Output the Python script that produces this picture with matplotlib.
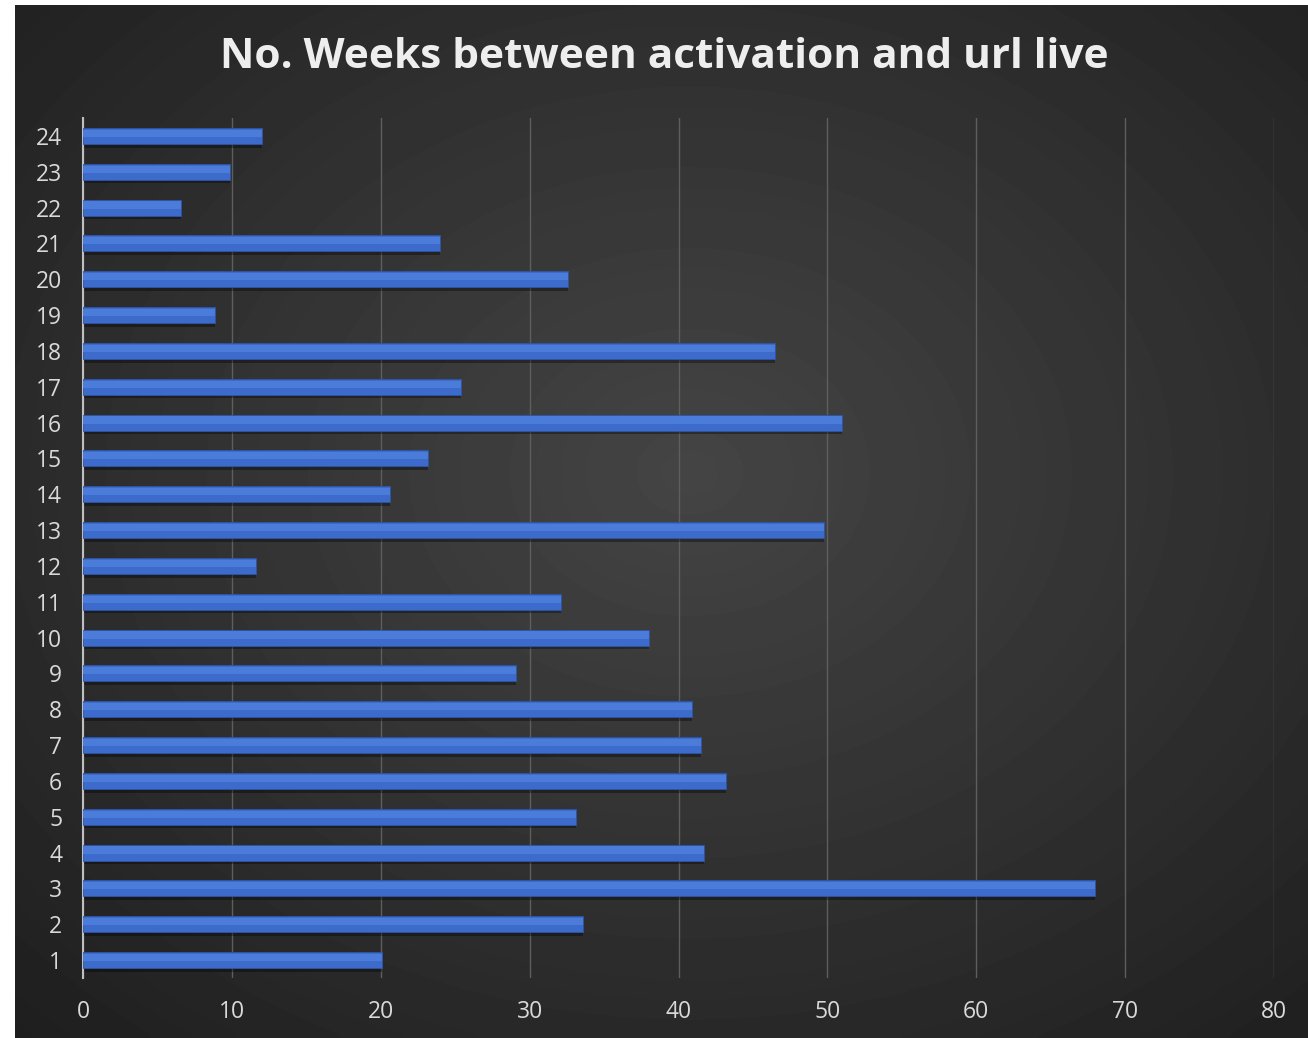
import numpy as np
import matplotlib.pyplot as plt

# data
categories = list(range(1, 25))
weeks = [20.1, 33.6, 68.0, 41.7, 33.1, 43.2, 41.5, 40.9, 29.1, 38.0, 32.1, 11.6,
         49.8, 20.6, 23.2, 51.0, 25.4, 46.5, 8.9, 32.6, 24.0, 6.6, 9.9, 12.0]
x_ticks = [0, 10, 20, 30, 40, 50, 60, 70, 80]
title = "No. Weeks between activation and url live"

W, H = 1308, 1038
fig = plt.figure(figsize=(W / 100, H / 100), dpi=100)
fig.patch.set_facecolor("white")

# dark radial-gradient background (white strip on left/top like the screenshot)
bg = fig.add_axes([15 / W, 0, 1 - 15 / W, 1 - 5 / H])
yy, xx = np.mgrid[0:200, 0:250]
cx, cy = 0.52 * 250, 0.45 * 200
r = np.sqrt(((xx - cx) / 250) ** 2 + ((yy - cy) / 200) ** 2)
shade = np.clip(1 - r / 0.75, 0, 1)
img = 0.12 + 0.15 * shade
bg.imshow(img, cmap="gray", vmin=0, vmax=1, aspect="auto", interpolation="bicubic")
bg.axis("off")

ax_l, ax_r, ax_t, ax_b = 83, 1274, 118, 978
ax = fig.add_axes([ax_l / W, 1 - ax_b / H, (ax_r - ax_l) / W, (ax_b - ax_t) / H])
ax.patch.set_alpha(0)

# soft shadow, bar, faint highlight on the upper half
ax.barh([c - 0.1 for c in categories], weeks, height=0.45,
        color="black", alpha=0.35, zorder=2)
ax.barh(categories, weeks, height=0.45, color="#3d6bcc", edgecolor="#2d56a8",
        linewidth=0.6, zorder=3)
ax.barh([c + 0.07 for c in categories], weeks, height=0.2, color="#4b7cd9",
        linewidth=0, zorder=4)

ax.set_xlim(0, 80)
ax.set_ylim(0.5, 24.5)
ax.set_xticks(x_ticks)
ax.set_yticks(categories)
ax.grid(axis="x", color="#5e5e5e", linewidth=1.0, zorder=1)
ax.set_axisbelow(True)
for s in ["top", "right", "bottom"]:
    ax.spines[s].set_visible(False)
ax.spines["left"].set_color("#bfbfbf")
ax.spines["left"].set_linewidth(1.5)
ax.tick_params(axis="both", length=0, colors="#d9d9d9", labelsize=16.5)
ax.tick_params(axis="x", pad=16)
ax.tick_params(axis="y", pad=15)
for lab in ax.get_xticklabels() + ax.get_yticklabels():
    lab.set_fontfamily("Open Sans")

fig.text(0.508, 1 - 58 / H, title, ha="center", va="center", color="#eeeeee",
         fontsize=30.5, fontweight="bold", fontfamily="Open Sans")

fig.savefig("out.png", dpi=100, facecolor=fig.get_facecolor())
